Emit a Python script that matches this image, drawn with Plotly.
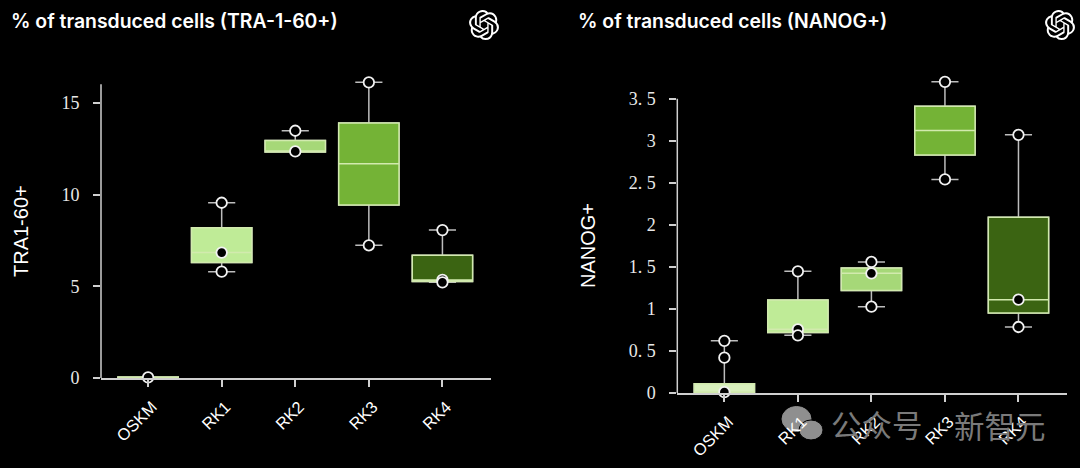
import base64
import plotly.graph_objects as go

W, H = 1080, 468
categories = ["OSKM", "RK1", "RK2", "RK3", "RK4"]
box_colors = ["#d9f0bd", "#bfeb97", "#a6d878", "#74b336", "#3b6412"]

tra_q1 = [0.0, 6.3, 12.33, 9.44, 5.27]
tra_median = [0.03, 6.84, 12.36, 11.69, 5.35]
tra_q3 = [0.05, 8.2, 12.96, 13.91, 6.69]
tra_low = [0.0, 5.8, 12.33, 7.24, 5.22]
tra_high = [0.05, 9.56, 13.49, 16.13, 8.07]
tra_points = [[0.03], [5.8, 6.84, 9.56], [12.36, 13.49], [7.24, 16.13], [5.35, 5.22, 8.07]]

nanog_q1 = [0.0, 0.72, 1.22, 2.83, 0.95]
nanog_median = [0.01, 0.757, 1.423, 3.12, 1.11]
nanog_q3 = [0.11, 1.106, 1.486, 3.41, 2.09]
nanog_low = [0.0, 0.686, 1.026, 2.54, 0.785]
nanog_high = [0.62, 1.447, 1.558, 3.70, 3.07]
nanog_points = [[0.01, 0.42, 0.62], [0.757, 0.686, 1.447], [1.558, 1.026, 1.423], [2.54, 3.70], [0.785, 1.11, 3.07]]

tra_ticks = [0, 5, 10, 15]
tra_ticktext = ["0", "5", "10", "15"]
nanog_ticks = [0, 0.5, 1, 1.5, 2, 2.5, 3, 3.5]
nanog_ticktext = ["0", "0. 5", "1", "1. 5", "2", "2. 5", "3", "3. 5"]

AXIS = "#cfcfcf"
WHISK = "#bdbdbd"
EDGE = "#d2eaae"
LOGO = ("M22.2819 9.8211a5.9847 5.9847 0 0 0-.5157-4.9108 6.0462 6.0462 0 0 0-6.5098-2.9A6.0651 6.0651 0 0 0 4.9807 4.1818"
        "a5.9847 5.9847 0 0 0-3.9977 2.9 6.0462 6.0462 0 0 0 .7427 7.0966 5.98 5.98 0 0 0 .511 4.9107 6.051 6.051 0 0 0 6.5146 2.9001"
        "A5.9847 5.9847 0 0 0 13.2599 24a6.0557 6.0557 0 0 0 5.7718-4.2058 5.9894 5.9894 0 0 0 3.9977-2.9001 6.0557 6.0557 0 0 0-.7475-7.0729z"
        "m-9.022 12.6081a4.4755 4.4755 0 0 1-2.8764-1.0408l.1419-.0804 4.7783-2.7582a.7948.7948 0 0 0 .3927-.6813v-6.7369l2.02 1.1686"
        "a.071.071 0 0 1 .038.052v5.5826a4.504 4.504 0 0 1-4.4945 4.4944zm-9.6607-4.1254a4.4708 4.4708 0 0 1-.5346-3.0137l.142.0852 4.783 2.7582"
        "a.7712.7712 0 0 0 .7806 0l5.8428-3.3685v2.3324a.0804.0804 0 0 1-.0332.0615L9.74 19.9502a4.4992 4.4992 0 0 1-6.1408-1.6464z"
        "M2.3408 7.8956a4.485 4.485 0 0 1 2.3655-1.9728V11.6a.7664.7664 0 0 0 .3879.6765l5.8144 3.3543-2.0201 1.1685a.0757.0757 0 0 1-.071 0"
        "l-4.8303-2.7865A4.504 4.504 0 0 1 2.3408 7.872zm16.5963 3.8558L13.1038 8.364 15.1192 7.2a.0757.0757 0 0 1 .071 0l4.8303 2.7913"
        "a4.4944 4.4944 0 0 1-.6765 8.1042v-5.6772a.79.79 0 0 0-.407-.667zm2.0107-3.0231l-.142-.0852-4.7735-2.7818a.7759.7759 0 0 0-.7854 0"
        "L9.409 9.2297V6.8974a.0662.0662 0 0 1 .0284-.0615l4.8303-2.7866a4.4992 4.4992 0 0 1 6.6802 4.66zM8.3065 12.863l-2.02-1.1638"
        "a.0804.0804 0 0 1-.038-.0567V6.0742a4.4992 4.4992 0 0 1 7.3757-3.4537l-.142.0805L8.704 5.459a.7948.7948 0 0 0-.3927.6813z"
        "m1.0976-2.3654l2.602-1.4998 2.6069 1.4998v2.9994l-2.5974 1.4997-2.6067-1.4997Z")


def fx(px):
    return px / W


def fy(py):
    return 1 - py / H


fig = go.Figure()


def add_panel(xa, ya, q1, med, q3, low, high, points):
    for i, cat in enumerate(categories):
        common = dict(x=[cat], xaxis=xa, yaxis=ya, q1=[q1[i]], median=[med[i]], q3=[q3[i]],
                      boxpoints=False, width=0.82, fillcolor=box_colors[i],
                      showlegend=False, hoverinfo="skip")
        fig.add_trace(go.Box(lowerfence=[low[i]], upperfence=[high[i]], whiskerwidth=0.45,
                             line=dict(color=WHISK, width=1.5), **common))
        fig.add_trace(go.Box(lowerfence=[q1[i]], upperfence=[q3[i]], whiskerwidth=0,
                             line=dict(color=EDGE, width=1.5), **common))
    xs, ys = [], []
    for cat, vals in zip(categories, points):
        for v in vals:
            xs.append(cat)
            ys.append(v)
    fig.add_trace(go.Scatter(x=xs, y=ys, xaxis=xa, yaxis=ya, mode="markers", cliponaxis=False,
                             marker=dict(size=10.5, color="#000000", line=dict(color="#f2f2f2", width=1.8)),
                             showlegend=False, hoverinfo="skip"))


add_panel("x", "y", tra_q1, tra_median, tra_q3, tra_low, tra_high, tra_points)
add_panel("x2", "y2", nanog_q1, nanog_median, nanog_q3, nanog_low, nanog_high, nanog_points)

xaxis_style = dict(type="category", categoryorder="array", categoryarray=categories,
                   range=[-0.64, 4.66], showgrid=False, zeroline=False, automargin=False,
                   showline=True, linecolor=AXIS, linewidth=1.5,
                   ticks="outside", ticklen=7, tickwidth=1.5, tickcolor=AXIS, tickangle=-45,
                   ticklabelstandoff=4, ticklabelshift=4,
                   tickfont=dict(family="Liberation Sans", size=16.5, color="#ffffff"))
yaxis_style = dict(showgrid=False, zeroline=False, showline=False, automargin=False,
                   ticks="outside", ticklen=7, tickwidth=1.5, tickcolor=AXIS,
                   ticklabelstandoff=10,
                   tickfont=dict(family="Liberation Serif", size=18, color="#e8e8e8"))

fig.update_layout(
    width=W, height=H, autosize=False, margin=dict(l=0, r=0, t=0, b=0),
    paper_bgcolor="#000000", plot_bgcolor="#000000", boxmode="overlay", showlegend=False,
    xaxis={**xaxis_style, "domain": [fx(101), fx(491)], "anchor": "y"},
    xaxis2={**xaxis_style, "domain": [fx(677.3), fx(1067)], "anchor": "y2"},
    yaxis={**yaxis_style, "domain": [fy(378), fy(78)], "range": [0, 300 / 18.33], "anchor": "x",
           "tickvals": tra_ticks, "ticktext": tra_ticktext},
    yaxis2={**yaxis_style, "domain": [fy(393), fy(78)], "range": [0, 315 / 84.1], "anchor": "x2",
            "tickvals": nanog_ticks, "ticktext": nanog_ticktext},
)

# y axis spines stop at the reference's own top values
fig.add_shape(type="line", xref="x domain", yref="y", x0=0, x1=0, y0=0, y1=16.03,
              line=dict(color=AXIS, width=1.5))
fig.add_shape(type="line", xref="x2 domain", yref="y2", x0=0, x1=0, y0=0, y1=3.5,
              line=dict(color=AXIS, width=1.5))


def note(text, x, y, size, family, color="#ffffff", xanchor="left", angle=0, weight=None):
    font = dict(family=family, size=size, color=color)
    if weight:
        font["weight"] = weight
    fig.add_annotation(text=text, xref="paper", yref="paper", x=fx(x), y=fy(y), showarrow=False,
                       xanchor=xanchor, yanchor="middle", textangle=angle, font=font, borderpad=0, borderwidth=0)


note("% of transduced cells (TRA-1-60+)", 11, 21, 19.4, "Inter", weight=600)
note("% of transduced cells (NANOG+)", 578, 21, 19.4, "Inter", weight=600)
note("TRA1-60+", 21, 231, 20, "Liberation Sans", xanchor="center", angle=-90)
note("NANOG+", 588, 246, 20, "Liberation Sans", xanchor="center", angle=-90)

# watermark
note("公众号", 831, 424, 30.5, "Noto Sans CJK SC", color="#7a7a7a")
note("新智元", 954, 425, 30.5, "Noto Sans CJK SC", color="#7a7a7a")
for cx, cy, rx, ry, border in [(796.5, 419, 14.5, 12.5, "#8f8f8f"), (811, 430, 12, 10, "#000000")]:
    fig.add_shape(type="circle", xref="paper", yref="paper",
                  x0=fx(cx - rx), x1=fx(cx + rx), y0=fy(cy + ry), y1=fy(cy - ry),
                  fillcolor="#8f8f8f", line=dict(color=border, width=1), layer="below")

svg = ('<svg xmlns="http://www.w3.org/2000/svg" viewBox="0 0 24 24"><path fill="#ffffff" d="' + LOGO + '"/></svg>')
uri = "data:image/svg+xml;base64," + base64.b64encode(svg.encode()).decode()
for cx in (484, 1060):
    fig.add_layout_image(source=uri, xref="paper", yref="paper", x=fx(cx - 15), y=fy(25 - 15),
                         sizex=30 / W, sizey=30 / H, xanchor="left", yanchor="top",
                         sizing="stretch", layer="above")

fig.write_html("out.html", config={"displayModeBar": False},
               post_script="document.body.style.margin='0';document.body.style.background='#000';document.documentElement.style.overflow='hidden';")
